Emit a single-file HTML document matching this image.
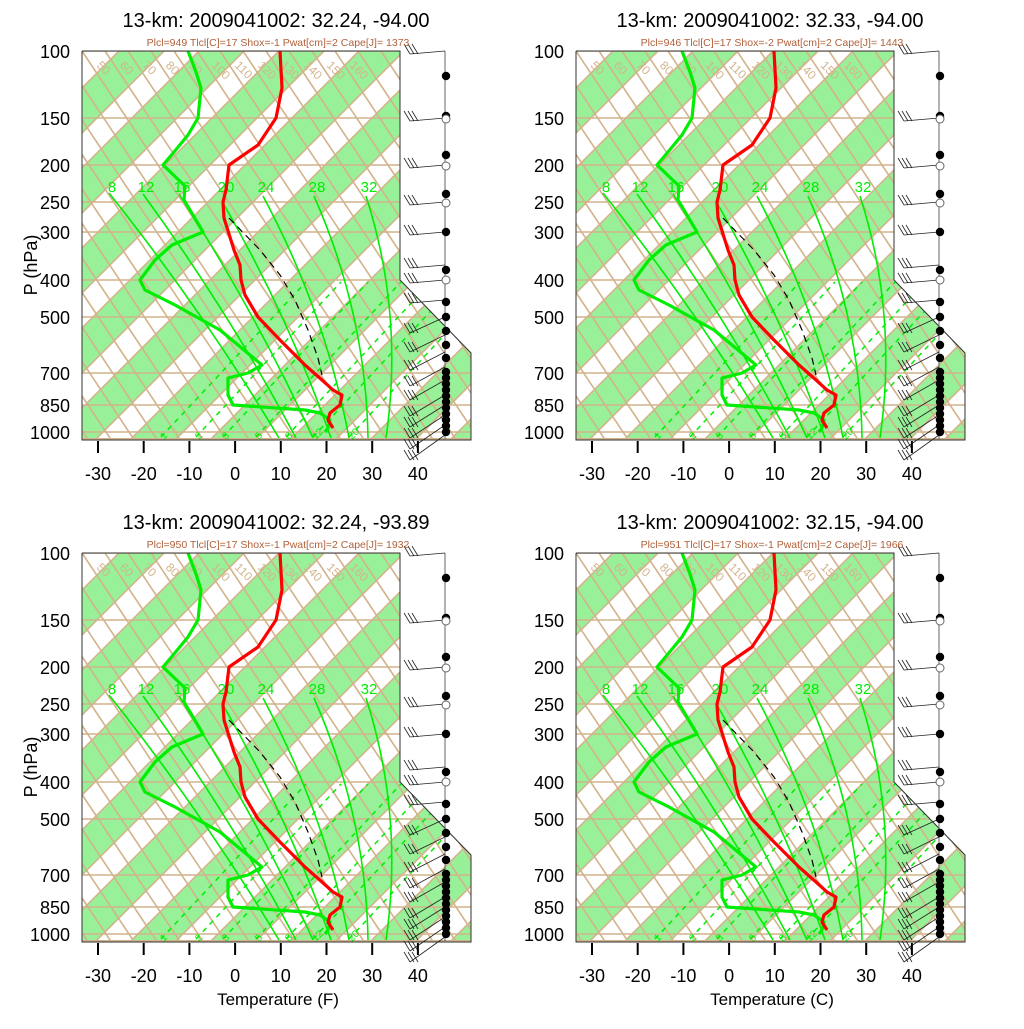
<!DOCTYPE html>
<html><head><meta charset="utf-8"><style>
html,body{margin:0;padding:0;background:#fff;}
svg text{font-family:"Liberation Sans",sans-serif;}
</style></head><body>
<svg id="s" width="1024" height="1024" viewBox="0 0 1024 1024" xmlns="http://www.w3.org/2000/svg"></svg>
<script>
const S=document.getElementById('s');
let out='';
const BR='#d2b48c',GF='#98f098',GL='#00ee00';
const panels=[
 {dx:0,dy:0,t:'13-km: 2009041002: 32.24, -94.00',st:'Plcl=949 Tlcl[C]=17 Shox=-1 Pwat[cm]=2 Cape[J]= 1373',xl:''},
 {dx:494,dy:0,t:'13-km: 2009041002: 32.33, -94.00',st:'Plcl=946 Tlcl[C]=17 Shox=-2 Pwat[cm]=2 Cape[J]= 1443',xl:''},
 {dx:0,dy:502,t:'13-km: 2009041002: 32.24, -93.89',st:'Plcl=950 Tlcl[C]=17 Shox=-1 Pwat[cm]=2 Cape[J]= 1932',xl:'Temperature (F)'},
 {dx:494,dy:502,t:'13-km: 2009041002: 32.15, -94.00',st:'Plcl=951 Tlcl[C]=17 Shox=-1 Pwat[cm]=2 Cape[J]= 1966',xl:'Temperature (C)'}];
const P=[[100,51],[150,118],[200,165],[250,202],[300,232],[400,280],[500,317],[700,373],[850,405],[1000,432]];
const T=[[280,51],[282,88],[276,118],[258,145],[229,165],[226,190],[223,202],[224,218],[234,250],[240,265],[241,280],[245,295],[258,317],[280,340],[305,365],[322,380],[333,390],[342,395],[340,405],[330,413],[328,420],[333,428]];
const D=[[188,51],[196,72],[201,88],[198,118],[188,135],[174,152],[163,165],[185,186],[184,200],[203,232],[172,245],[155,260],[140,280],[145,290],[175,305],[220,330],[262,365],[248,373],[228,378],[228,395],[233,405],[305,410],[320,413],[330,420],[328,428],[325,432]];
const PA=[[229,218],[260,250],[280,275],[295,300],[308,330],[318,358],[322,375]];
const MA=[[8,109,187,279,438,10],[12,143,188,296,438,10],[16,179,188,313,438,10],[20,223,197,331,438,12],[24,263,190,349,438,20],[28,314,190,368,438,25],[32,366,190,386,438,28]];
const MR=[[1,161],[2,196],[3,223],[5,256],[8,286],[12,313],[20,349]];
const pts=a=>a.map(p=>p[0]+','+p[1]).join(' ');
panels.forEach((pn,i)=>{
 out+=`<g transform="translate(${pn.dx},${pn.dy})">`;
 out+=`<clipPath id="c${i}"><polygon points="82,51 400,51 400,280 471,353 471,440 82,440"/></clipPath>`;
 out+=`<g clip-path="url(#c${i})">`;
 for(let k=-3;k<12;k++){const a=170+80*k,b=215+80*k;
  out+=`<polygon points="${a-51},51 ${b-51},51 ${b-440},440 ${a-440},440" fill="${GF}"/>`;}
 for(let k=-6;k<14;k++){[170,215].forEach(c0=>{const c=c0+80*k;out+=`<line x1="${c-51}" y1="51" x2="${c-440}" y2="440" stroke="${BR}" stroke-width="1.6"/>`;});}
 for(let k=-12;k<20;k++){const x0=105+23*k;out+=`<line x1="${x0}" y1="51" x2="${x0+260}" y2="441" stroke="${BR}" stroke-width="1.6"/>`;}
 P.forEach(p=>{out+=`<line x1="82" y1="${p[1]}" x2="471" y2="${p[1]}" stroke="${BR}" stroke-width="1.6"/>`;});
 out+=`<line x1="82" y1="439" x2="471" y2="439" stroke="${BR}" stroke-width="2"/>`;
 MR.forEach(m=>{out+=`<line x1="${m[1]}" y1="437" x2="${m[1]+145}" y2="282" stroke="${GL}" stroke-width="1.5" stroke-dasharray="5,5"/>`;
   out+=`<text x="${m[1]+3}" y="440" font-size="10" fill="${GL}" transform="rotate(-45 ${m[1]+3} 440)">${m[0]}</text>`;});
 MA.forEach(m=>{const mx=(m[1]+m[3])/2+m[5],my=(m[2]+m[4])/2;
  out+=`<path d="M${m[1]},${m[2]+6} Q${mx},${my} ${m[3]},${m[4]}" fill="none" stroke="${GL}" stroke-width="1.6"/>`;});
 [50,60,70,80,90,100,110,120,130,140,150,160].forEach((v,j)=>{const x=96+23*j;out+=`<text x="${x}" y="66" font-size="12" fill="${BR}" transform="rotate(45 ${x} 66)">${v}</text>`;});
 out+=`</g>`;
 MA.forEach(m=>{out+=`<text x="${m[1]+3}" y="192" font-size="15" fill="${GL}" text-anchor="middle">${m[0]}</text>`;});
 out+=`<polyline points="${pts(PA)}" fill="none" stroke="#000" stroke-width="1.2" stroke-dasharray="7,5"/>`;
 out+=`<polyline points="${pts(D)}" fill="none" stroke="${GL}" stroke-width="3.2" stroke-linejoin="round"/>`;
 out+=`<polyline points="${pts(T)}" fill="none" stroke="#f00" stroke-width="3.2" stroke-linejoin="round"/>`;
 out+=`<polyline points="82,51 400,51 400,280 471,353 471,440 82,440 82,51" fill="none" stroke="#333" stroke-width="1"/>`;
 out+=`<line x1="445" y1="51" x2="445" y2="440" stroke="#666" stroke-width="1"/>`;
 const barbs=[51,118,165,202,232,265,280,300,317,335,352,367,380,395,405,415,425,435];
 barbs.forEach((y,j)=>{const lx=410,ly=y+(j>7?8+j:3);out+=`<line x1="445" y1="${y}" x2="${lx}" y2="${ly}" stroke="#222" stroke-width="0.8"/>`;
  for(let q=0;q<3;q++)out+=`<line x1="${lx+q*4}" y1="${ly}" x2="${lx+q*4-6}" y2="${ly-10}" stroke="#222" stroke-width="0.8"/>`;});
 [76,116,155,194,232,270,302,317,331,345,358,372,378,384,390,396,402,408,414,420,426,432].forEach(y=>{out+=`<circle cx="446" cy="${y}" r="4.2" fill="#000"/>`;});
 [119,166,203,280].forEach(y=>{out+=`<circle cx="446" cy="${y}" r="4" fill="#fff" stroke="#666"/>`;});
 P.forEach(p=>{out+=`<text x="70" y="${p[1]+7}" font-size="18" text-anchor="end">${p[0]}</text>`;});
 [-30,-20,-10,0,10,20,30,40].forEach((v,j)=>{const x=98+45.7*j;out+=`<line x1="${x}" y1="441" x2="${x}" y2="453" stroke="#000" stroke-width="2"/><text x="${x}" y="480" font-size="18" text-anchor="middle">${v}</text>`;});
 out+=`<text x="276" y="27" font-size="20" text-anchor="middle">${pn.t}</text>`;
 out+=`<text x="278" y="46" font-size="10.5" fill="#b0603a" text-anchor="middle">${pn.st}</text>`;
 if(pn.xl)out+=`<text x="278" y="503" font-size="17" text-anchor="middle">${pn.xl}</text>`;
 if(pn.dx==0)out+=`<text x="0" y="0" font-size="18" text-anchor="middle" transform="translate(37,265) rotate(-90)">P (hPa)</text>`;
 out+=`</g>`;
});
S.innerHTML=out;
</script>
</body></html>
